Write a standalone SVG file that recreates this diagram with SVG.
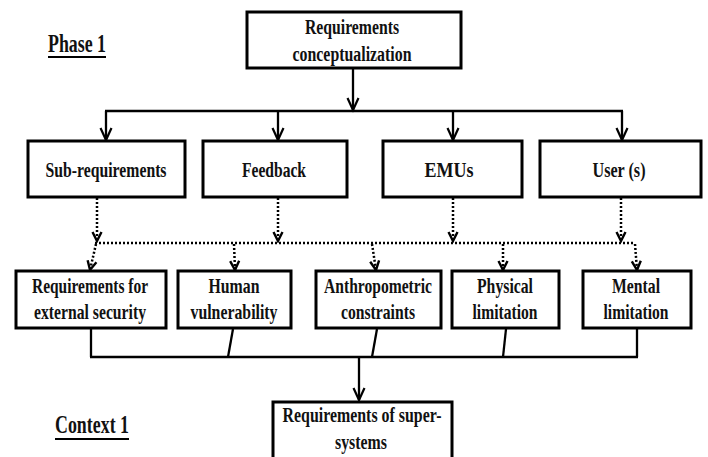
<svg xmlns="http://www.w3.org/2000/svg" width="708" height="457" viewBox="0 0 708 457">
  <style>
    .box { fill: #fff; stroke: #000; stroke-width: 3; }
    .t { font-family: "Liberation Serif", "Times New Roman", serif; font-weight: bold; fill: #111; text-anchor: middle; }
    .t22 { font-size: 22px; }
    .t19 { font-size: 20px; }
    .lbl { font-family: "Liberation Serif", "Times New Roman", serif; font-weight: bold; fill: #111; font-size: 25px; }
    .solid { fill: none; stroke: #000; stroke-width: 2.3; }
    .dot { fill: none; stroke: #000; stroke-width: 2.5; stroke-dasharray: 2 2; }
  </style>
  <defs>
    <marker id="arrow" markerUnits="userSpaceOnUse" markerWidth="16" markerHeight="14" refX="13" refY="7" orient="auto" viewBox="0 0 16 14">
      <path d="M1,1.5 L13,7 L1,12.5" fill="none" stroke="#000" stroke-width="2.2"/>
    </marker>
    <marker id="darrow" markerUnits="userSpaceOnUse" markerWidth="12" markerHeight="12" refX="10" refY="6" orient="auto" viewBox="0 0 12 12">
      <path d="M1,1.5 L10,6 L1,10.5" fill="none" stroke="#000" stroke-width="2.4"/>
    </marker>
  </defs>

  <!-- side labels -->
  <g id="phase-label">
    <text class="lbl" x="48" y="52" textLength="58" lengthAdjust="spacingAndGlyphs">Phase 1</text>
    <line x1="48" y1="57" x2="106" y2="57" stroke="#000" stroke-width="2"/>
  </g>
  <g id="context-label">
    <text class="lbl" x="55" y="433" textLength="74" lengthAdjust="spacingAndGlyphs">Context 1</text>
    <line x1="55" y1="439" x2="129" y2="439" stroke="#000" stroke-width="2"/>
  </g>

  <!-- connectors -->
  <g id="connectors">
    <!-- top tree -->
    <line class="solid" x1="353" y1="68" x2="353" y2="110" marker-end="url(#arrow)"/>
    <line class="solid" x1="105" y1="111" x2="623" y2="111"/>
    <line class="solid" x1="106" y1="111" x2="106" y2="140" marker-end="url(#arrow)"/>
    <line class="solid" x1="278" y1="111" x2="278" y2="140" marker-end="url(#arrow)"/>
    <line class="solid" x1="453" y1="111" x2="453" y2="140" marker-end="url(#arrow)"/>
    <line class="solid" x1="622" y1="111" x2="622" y2="140" marker-end="url(#arrow)"/>

    <!-- dotted fan-in -->
    <line class="dot" x1="97" y1="198" x2="97" y2="241" marker-end="url(#darrow)"/>
    <line class="dot" x1="278" y1="198" x2="278" y2="241" marker-end="url(#darrow)"/>
    <line class="dot" x1="453" y1="198" x2="453" y2="241" marker-end="url(#darrow)"/>
    <line class="dot" x1="621" y1="198" x2="621" y2="241" marker-end="url(#darrow)"/>
    <line class="dot" x1="95" y1="243" x2="635" y2="243"/>

    <!-- dotted fan-out -->
    <line class="dot" x1="96" y1="244" x2="90" y2="270" marker-end="url(#darrow)"/>
    <line class="dot" x1="234" y1="244" x2="235" y2="270" marker-end="url(#darrow)"/>
    <line class="dot" x1="372" y1="244" x2="376" y2="270" marker-end="url(#darrow)"/>
    <line class="dot" x1="503" y1="244" x2="503" y2="270" marker-end="url(#darrow)"/>
    <line class="dot" x1="635" y1="244" x2="637" y2="270" marker-end="url(#darrow)"/>

    <!-- bottom merge -->
    <line class="solid" x1="91" y1="329" x2="91" y2="357"/>
    <line class="solid" x1="233" y1="329" x2="228" y2="357"/>
    <line class="solid" x1="377" y1="329" x2="372" y2="357"/>
    <line class="solid" x1="506" y1="329" x2="503" y2="357"/>
    <line class="solid" x1="637" y1="329" x2="637" y2="357"/>
    <line class="solid" x1="90" y1="357" x2="638" y2="357"/>
    <line class="solid" x1="359" y1="357" x2="359" y2="400" marker-end="url(#arrow)"/>
  </g>

  <!-- top node -->
  <g id="node-conceptualization">
    <rect class="box" x="247" y="12" width="214" height="56"/>
    <text class="t t19" x="352" y="34" textLength="94" lengthAdjust="spacingAndGlyphs">Requirements</text>
    <text class="t t19" x="352" y="61" textLength="119" lengthAdjust="spacingAndGlyphs">conceptualization</text>
  </g>

  <!-- second row -->
  <g id="node-subrequirements">
    <rect class="box" x="28" y="141" width="157" height="56"/>
    <text class="t t22" x="106" y="177" textLength="121" lengthAdjust="spacingAndGlyphs">Sub-requirements</text>
  </g>
  <g id="node-feedback">
    <rect class="box" x="203" y="141" width="144" height="56"/>
    <text class="t t22" x="274" y="177" textLength="64" lengthAdjust="spacingAndGlyphs">Feedback</text>
  </g>
  <g id="node-emus">
    <rect class="box" x="383" y="141" width="139" height="56"/>
    <text class="t t22" x="449" y="177" textLength="49" lengthAdjust="spacingAndGlyphs">EMUs</text>
  </g>
  <g id="node-users">
    <rect class="box" x="540" y="141" width="161" height="56"/>
    <text class="t t22" x="619" y="177" textLength="53" lengthAdjust="spacingAndGlyphs">User (s)</text>
  </g>

  <!-- third row -->
  <g id="node-external-security">
    <rect class="box" x="16" y="271" width="150" height="57"/>
    <text class="t t22" x="90" y="293" textLength="116" lengthAdjust="spacingAndGlyphs">Requirements for</text>
    <text class="t t22" x="90" y="319" textLength="112" lengthAdjust="spacingAndGlyphs">external security</text>
  </g>
  <g id="node-human-vulnerability">
    <rect class="box" x="178" y="271" width="113" height="57"/>
    <text class="t t22" x="234" y="293" textLength="51" lengthAdjust="spacingAndGlyphs">Human</text>
    <text class="t t22" x="234" y="319" textLength="87" lengthAdjust="spacingAndGlyphs">vulnerability</text>
  </g>
  <g id="node-anthropometric">
    <rect class="box" x="316" y="271" width="125" height="57"/>
    <text class="t t22" x="378" y="293" textLength="108" lengthAdjust="spacingAndGlyphs">Anthropometric</text>
    <text class="t t22" x="378" y="319" textLength="74" lengthAdjust="spacingAndGlyphs">constraints</text>
  </g>
  <g id="node-physical">
    <rect class="box" x="452" y="271" width="107" height="57"/>
    <text class="t t22" x="505" y="293" textLength="56" lengthAdjust="spacingAndGlyphs">Physical</text>
    <text class="t t22" x="505" y="319" textLength="65" lengthAdjust="spacingAndGlyphs">limitation</text>
  </g>
  <g id="node-mental">
    <rect class="box" x="583" y="271" width="108" height="57"/>
    <text class="t t22" x="636" y="293" textLength="48" lengthAdjust="spacingAndGlyphs">Mental</text>
    <text class="t t22" x="636" y="319" textLength="65" lengthAdjust="spacingAndGlyphs">limitation</text>
  </g>

  <!-- bottom node -->
  <g id="node-super-systems">
    <rect class="box" x="273" y="402" width="179" height="70"/>
    <text class="t t22" x="362" y="422" textLength="159" lengthAdjust="spacingAndGlyphs">Requirements of super-</text>
    <text class="t t22" x="361" y="449" textLength="52" lengthAdjust="spacingAndGlyphs">systems</text>
  </g>
</svg>
